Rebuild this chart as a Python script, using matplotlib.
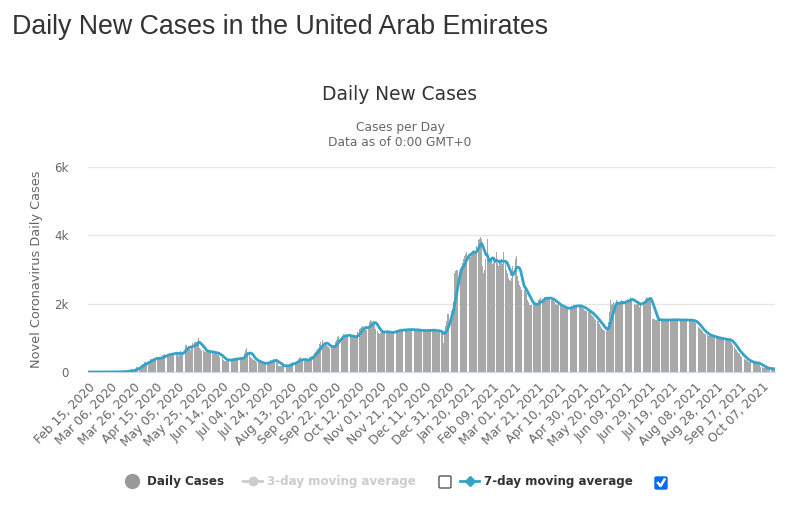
import numpy as np
import pandas as pd
import matplotlib
matplotlib.use("Agg")
import matplotlib.pyplot as plt
from matplotlib.lines import Line2D
from matplotlib.patches import FancyBboxPatch

# daily new cases, UAE (start Feb 15, 2020)
feb_2020 = [0, 0, 0, 0, 0, 0, 0, 0, 0, 2, 0, 0, 0, 6, 0]
mar_2020 = [0, 6, 0, 6, 0, 2, 0, 15, 0, 11, 0, 0, 11, 13, 15, 0, 15, 15, 27, 13,
            13, 45, 50, 85, 0, 63, 72, 102, 141, 150, 153]
apr_2020 = [150, 210, 240, 241, 294, 283, 277, 300, 331, 370, 376, 387, 398, 400, 412,
            425, 400, 387, 410, 420, 483, 490, 518, 525, 532, 490, 490, 536, 552, 557]
may_2020 = [564, 561, 557, 541, 462, 532, 624, 502, 581, 698, 781, 783, 725, 747, 731,
            635, 760, 850, 880, 870, 870, 892, 994, 700, 680, 620, 650, 600, 580, 620, 600]
jun_2020 = [596, 570, 589, 596, 540, 568, 557, 540, 512, 528, 450, 420, 415, 360, 335,
            320, 310, 360, 393, 365, 350, 370, 380, 392, 380, 400, 395, 388, 401, 410]
jul_2020 = [420, 430, 560, 640, 700, 580, 520, 450, 400, 380, 360, 340, 320, 300, 289,
            283, 264, 258, 245, 232, 240, 264, 289, 300, 326, 350, 324, 288, 375, 348, 375]
aug_2020 = [254, 179, 164, 189, 177, 196, 171, 179, 189, 178, 181, 210, 262, 271, 283,
            298, 234, 305, 318, 390, 410, 435, 344, 330, 340, 320, 350, 360, 390, 430, 450]
sep_2020 = [480, 510, 560, 600, 640, 680, 700, 810, 880, 930, 860, 850, 810, 780, 760,
            730, 700, 720, 740, 760, 780, 870, 930, 1010, 1060, 1020, 1000, 1050, 1100, 1080]
oct_2020 = [1100, 1050, 1080, 1060, 1020, 1010, 1040, 1060, 1020, 1000, 1080, 1180, 1250,
            1300, 1330, 1350, 1300, 1310, 1260, 1240, 1300, 1450, 1520, 1500, 1460, 1480,
            1420, 1250, 1200, 1150, 1120]
nov_2020 = [1150, 1180, 1200, 1190, 1210, 1160, 1170, 1140, 1130, 1150, 1180, 1160, 1190,
            1210, 1230, 1200, 1220, 1250, 1210, 1240, 1230, 1250, 1220, 1260, 1240, 1230,
            1250, 1220, 1260, 1240]
dec_2020 = [1230, 1210, 1240, 1200, 1250, 1220, 1190, 1210, 1230, 1200, 1220, 1210, 1230,
            1200, 1220, 1240, 1210, 1250, 1230, 1200, 1180, 1200, 1190, 1170, 1160, 1150,
            850, 1200, 1350, 1500, 1700]
jan_2021 = [1700, 1730, 1800, 1850, 2050, 2900, 2950, 3000, 2980, 2990, 3020, 3100, 3200,
            3300, 3400, 3450, 3500, 3520, 3460, 3380, 3500, 3550, 3580, 3510, 3540, 3700,
            3850, 3900, 3950, 3900, 3100]
feb_2021 = [2900, 3000, 3300, 3900, 3250, 3200, 3280, 3300, 3150, 3200, 3250, 3500, 3180,
            3100, 3200, 3250, 3300, 3150, 3500, 3200, 3000, 2900, 2750, 2700, 2650, 2750,
            3100, 3450]
mar_2021 = [3300, 3400, 2800, 2650, 2550, 2500, 2400, 2350, 2400, 2450, 2300, 2100, 2050,
            1950, 1950, 1970, 2000, 2050, 1980, 1950, 1940, 2100, 2150, 2170, 2130, 2120,
            2190, 2200, 2150, 2180, 2140]
apr_2021 = [2160, 2120, 2110, 2100, 2040, 1990, 1960, 1980, 1950, 1930, 1910, 1890, 1880,
            1870, 1860, 1840, 1850, 1880, 1900, 1920, 1930, 1950, 1960, 1940, 1920, 1910,
            1930, 1960, 1900, 1870]
may_2021 = [1850, 1820, 1800, 1780, 1760, 1750, 1720, 1680, 1650, 1600, 1560, 1530, 1500,
            1480, 1400, 1350, 1300, 1260, 1230, 1210, 1200, 1220, 1450, 1750, 2100, 1950,
            2000, 2050, 1980, 2100, 1950]
jun_2021 = [2000, 2050, 2020, 2100, 2050, 2000, 2060, 2080, 2150, 2100, 2130, 2200, 2120,
            2050, 2000, 1950, 1980, 2010, 2050, 1900, 1980, 2100, 2050, 2080, 2150, 2200,
            2180, 2150, 2200, 2100]
jul_2021 = [1550, 1560, 1540, 1530, 1520, 1510, 1530, 1540, 1520, 1510, 1519, 1523, 1530,
            1521, 1517, 1520, 1531, 1541, 1524, 1537, 1528, 1519, 1512, 1536, 1530, 1520,
            1510, 1519, 1528, 1522, 1538]
aug_2021 = [1521, 1515, 1519, 1510, 1502, 1505, 1495, 1480, 1430, 1380, 1320, 1290, 1250,
            1220, 1190, 1150, 1120, 1100, 1080, 1064, 1060, 1050, 1040, 1030, 1020, 1010,
            1000, 994, 987, 980, 975]
sep_2021 = [970, 965, 960, 955, 950, 945, 940, 930, 900, 840, 780, 720, 680, 640, 600,
            560, 520, 480, 450, 420, 390, 360, 340, 320, 300, 290, 280, 275, 270, 265]
oct_2021 = [262, 258, 255, 248, 200, 160, 140, 125, 115, 110, 105, 100, 98, 95, 92, 90,
            88, 85]

cases = np.array(feb_2020 + mar_2020 + apr_2020 + may_2020 + jun_2020 + jul_2020 +
                 aug_2020 + sep_2020 + oct_2020 + nov_2020 + dec_2020 + jan_2021 +
                 feb_2021 + mar_2021 + apr_2021 + may_2021 + jun_2021 + jul_2021 +
                 aug_2021 + sep_2021 + oct_2021, dtype=float)
dates = pd.date_range("2020-02-15", periods=len(cases), freq="D")
avg7 = pd.Series(cases).rolling(7, min_periods=1).mean().values

tick_idx = np.arange(0, len(cases), 20)
tick_labels = [d.strftime("%b %d, %Y") for d in dates[tick_idx]]
y_ticks = [0, 2000, 4000, 6000]
y_labels = ["0", "2k", "4k", "6k"]

bar_color = "#a8a8a8"
line_color = "#33a3c9"

W, H = 794, 508
fig = plt.figure(figsize=(W / 100, H / 100), dpi=100)
plt.rcParams["font.family"] = ["DejaVu Sans"]

def fx(px):
    return px / W

def fy(py):
    return 1 - py / H

ax = fig.add_axes([fx(88), fy(372), fx(775 - 88), (372 - 167) / H])
x = np.arange(len(cases))
ax.bar(x, cases, width=0.85, color=bar_color, linewidth=0, zorder=2)
ax.plot(x, avg7, color=line_color, lw=2, zorder=3, solid_joinstyle="round")

ax.set_xlim(-0.5, len(cases) - 0.5)
ax.set_ylim(0, 6000)
ax.set_yticks(y_ticks)
ax.set_yticklabels(y_labels)
ax.set_xticks(tick_idx)
ax.set_xticklabels(tick_labels, rotation=45, ha="right", va="top",
                   rotation_mode="anchor")
ax.tick_params(axis="x", length=0, pad=6, labelsize=8.8, labelcolor="#666666")
ax.tick_params(axis="y", length=0, pad=14, labelsize=8.5, labelcolor="#666666")
ax.grid(axis="y", color="#e6e6e6", lw=1, zorder=0)
for s in ["top", "right", "left"]:
    ax.spines[s].set_visible(False)
ax.spines["bottom"].set_color("#ccd6eb")
ax.set_ylabel("Novel Coronavirus Daily Cases", fontsize=9.3, color="#666666",
              labelpad=8)

# titles
fig.text(fx(12), fy(27), "Daily New Cases in the United Arab Emirates",
         fontsize=19.3, color="#333333", va="center", ha="left",
         family=["Liberation Sans"])
fig.text(fx(400), fy(94), "Daily New Cases", fontsize=13.4, color="#333333",
         ha="center", va="center")
fig.text(fx(400), fy(127), "Cases per Day", fontsize=8.8, color="#666666",
         ha="center", va="center")
fig.text(fx(400), fy(142), "Data as of 0:00 GMT+0", fontsize=8.8, color="#666666",
         ha="center", va="center")

# legend
ly = fy(481)
fig.add_artist(Line2D([fx(132)], [ly], marker="o", ms=10, color="#999999",
                      transform=fig.transFigure))
fig.text(fx(147), ly, "Daily Cases", fontsize=8.6, weight="bold", color="#333333",
         va="center")
fig.add_artist(Line2D([fx(243), fx(262)], [ly, ly], color="#cccccc", lw=2,
                      transform=fig.transFigure))
fig.add_artist(Line2D([fx(252.5)], [ly], marker="o", ms=6, color="#cccccc",
                      transform=fig.transFigure))
fig.text(fx(267), ly, "3-day moving average", fontsize=8.6, weight="bold",
         color="#cccccc", va="center")
fig.add_artist(Line2D([fx(460), fx(479)], [ly, ly], color=line_color, lw=2,
                      transform=fig.transFigure))
fig.add_artist(Line2D([fx(469.5)], [ly], marker="D", ms=5, color=line_color,
                      transform=fig.transFigure))
fig.text(fx(484), ly, "7-day moving average", fontsize=8.6, weight="bold",
         color="#333333", va="center")

# checkboxes
box1 = FancyBboxPatch((fx(439), fy(488)), fx(12), 12 / H,
                      boxstyle="round,pad=0,rounding_size=0.002",
                      transform=fig.transFigure, facecolor="white",
                      edgecolor="#555555", lw=1)
fig.add_artist(box1)
box2 = FancyBboxPatch((fx(655), fy(489)), fx(12), 12 / H,
                      boxstyle="round,pad=0,rounding_size=0.002",
                      transform=fig.transFigure, facecolor="#0b6cf0",
                      edgecolor="#0b6cf0", lw=1)
fig.add_artist(box2)
fig.add_artist(Line2D([fx(658), fx(660.5), fx(664.5)], [fy(483), fy(486), fy(479.5)],
                      color="white", lw=1.8, transform=fig.transFigure))

fig.savefig("out.png", dpi=100)
